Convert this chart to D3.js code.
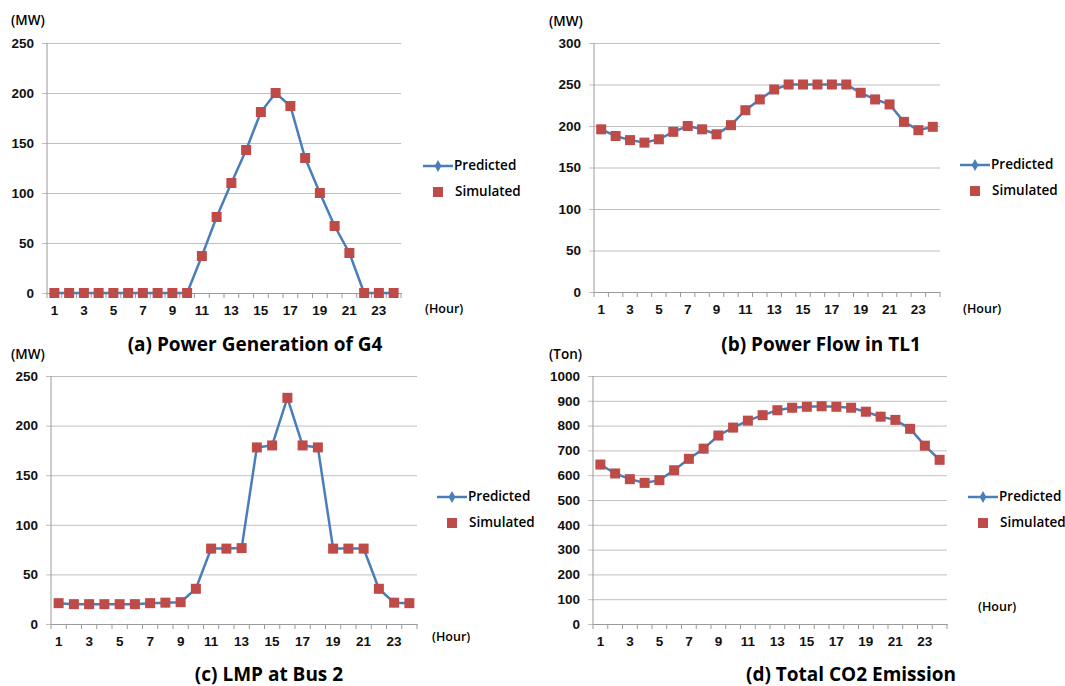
<!DOCTYPE html>
<html>
<head>
<meta charset="utf-8">
<script src="https://cdn.jsdelivr.net/npm/d3@7"></script>
<style>
  body { margin: 0; background: #fff; }
  svg { font-family: "Open Sans", "Noto Sans", sans-serif; }
  .tick text { font-size: 13px; font-weight: 600; fill: #111; }
</style>
</head>
<body>
<div class="board"></div>
<script>
var W = 1065, H = 686

// hours 1..24
var hours = d3.range(1, 25)
var xTickLabels = [1, 3, 5, 7, 9, 11, 13, 15, 17, 19, 21, 23]

// (a) power generation of G4 (MW)
var genPredicted = [0, 0, 0, 0, 0, 0, 0, 0, 0, 0, 37, 76, 110, 143, 181, 200, 187, 135, 100, 67, 40, 0, 0, 0]
var genSimulated = [0, 0, 0, 0, 0, 0, 0, 0, 0, 0, 37, 76, 110, 143, 181, 200, 187, 135, 100, 67, 40, 0, 0, 0]

// (b) power flow in TL1 (MW)
var flowPredicted = [196, 188, 183, 180, 184, 193, 200, 196, 190, 201, 219, 232, 244, 250, 250, 250, 250, 250, 240, 232, 226, 205, 195, 199]
var flowSimulated = [196, 188, 183, 180, 184, 193, 200, 196, 190, 201, 219, 232, 244, 250, 250, 250, 250, 250, 240, 232, 226, 205, 195, 199]

// (c) LMP at bus 2
var lmpPredicted = [21, 20, 20, 20, 20, 20, 21, 21.5, 22, 35.5, 76, 76, 76.5, 178, 180, 228, 180, 178, 76, 76, 76, 35.5, 21.5, 21]
var lmpSimulated = [21, 20, 20, 20, 20, 20, 21, 21.5, 22, 35.5, 76, 76, 76.5, 178, 180, 228, 180, 178, 76, 76, 76, 35.5, 21.5, 21]

// (d) total CO2 emission (Ton)
var co2Predicted = [643, 607, 584, 569, 580, 620, 666, 707, 760, 792, 820, 842, 862, 872, 876, 878, 876, 872, 856, 836, 823, 787, 719, 662]
var co2Simulated = [643, 607, 584, 569, 580, 620, 666, 707, 760, 792, 820, 842, 862, 872, 876, 878, 876, 872, 856, 836, 823, 787, 719, 662]

var seriesNames = ["Predicted", "Simulated"]

var LINE = "#4a7ebb", MARK = "#be4b48", GRID = "#bfbfbf", AXIS = "#9a9a9a"

var svg = d3.select(".board")
    .append("svg")
    .attr("width", W)
    .attr("height", H)

var panels = [
    { pred: genPredicted, sim: genSimulated, yMax: 250, yStep: 50, unit: "(MW)",
      title: "(a) Power Generation of G4",
      box: [47, 43, 401, 293], unitAt: [11, 21], hourAt: [425, 310], titleAt: [255, 346],
      legend: [423, 166] },
    { pred: flowPredicted, sim: flowSimulated, yMax: 300, yStep: 50, unit: "(MW)",
      title: "(b) Power Flow in TL1",
      box: [594, 43, 940, 292], unitAt: [549, 22], hourAt: [963, 310], titleAt: [821, 346],
      legend: [960, 165] },
    { pred: lmpPredicted, sim: lmpSimulated, yMax: 250, yStep: 50, unit: "(MW)",
      title: "(c) LMP at Bus 2",
      box: [51, 376, 417, 624], unitAt: [11, 355], hourAt: [432, 638], titleAt: [269, 676],
      legend: [437, 497] },
    { pred: co2Predicted, sim: co2Simulated, yMax: 1000, yStep: 100, unit: "(Ton)",
      title: "(d) Total CO2 Emission",
      box: [593, 376, 947, 624], unitAt: [549, 355], hourAt: [978, 608], titleAt: [851, 676],
      legend: [968, 497] }
]

function drawPanel(p) {
    var left = p.box[0], top = p.box[1], right = p.box[2], bottom = p.box[3]

    var x = d3.scaleBand()
        .domain(hours)
        .range([left, right])

    var y = d3.scaleLinear()
        .domain([0, p.yMax])
        .range([bottom, top])

    var g = svg.append("g")

    // gridlines + y labels
    var yAxis = g.append("g")
        .attr("transform", `translate(${left}, 0)`)
        .call(d3.axisLeft(y)
            .tickValues(d3.range(0, p.yMax + 1, p.yStep))
            .tickFormat(d3.format("d"))
            .tickSizeInner(-(right - left))
            .tickSizeOuter(0)
            .tickPadding(13))
    yAxis.select(".domain").remove()
    yAxis.selectAll(".tick line")
        .attr("x1", -5)
        .attr("stroke", GRID)
    yAxis.selectAll(".tick text").style("font-size", "13.5px")

    // vertical axis line
    g.append("line")
        .attr("x1", left).attr("x2", left)
        .attr("y1", top).attr("y2", bottom)
        .attr("stroke", AXIS)

    // x axis: labels on odd hours, tick marks between categories
    var xAxis = g.append("g")
        .attr("transform", `translate(0, ${bottom})`)
        .call(d3.axisBottom(x)
            .tickValues(xTickLabels)
            .tickSize(0)
            .tickPadding(12))
    xAxis.select(".domain").attr("stroke", AXIS)
    xAxis.selectAll(".tick text").style("font-size", "13.5px")

    g.selectAll(".xtick")
        .data(d3.range(hours.length + 1))
        .enter()
        .append("line")
        .attr("x1", i => left + i * x.step())
        .attr("x2", i => left + i * x.step())
        .attr("y1", bottom)
        .attr("y2", bottom + 5)
        .attr("stroke", AXIS)

    var cx = (d, i) => x(hours[i]) + x.bandwidth() / 2

    // predicted line
    g.append("path")
        .datum(p.pred)
        .attr("fill", "none")
        .attr("stroke", LINE)
        .attr("stroke-width", 2.5)
        .attr("d", d3.line()
            .x(cx)
            .y(d => y(d)))

    g.selectAll(".diamond")
        .data(p.pred)
        .enter()
        .append("path")
        .attr("d", d3.symbol().type(d3.symbolDiamond).size(30))
        .attr("fill", LINE)
        .attr("transform", (d, i) => `translate(${cx(d, i)}, ${y(d)})`)

    // simulated squares
    var S = 10
    g.selectAll(".sq")
        .data(p.sim)
        .enter()
        .append("rect")
        .attr("x", (d, i) => cx(d, i) - S / 2)
        .attr("y", d => y(d) - S / 2)
        .attr("width", S)
        .attr("height", S)
        .attr("fill", MARK)

    // unit + hour labels
    g.append("text")
        .attr("x", p.unitAt[0])
        .attr("y", p.unitAt[1])
        .attr("dominant-baseline", "middle")
        .style("font-size", "13.5px")
        .style("font-weight", 600)
        .text(p.unit)

    g.append("text")
        .attr("x", p.hourAt[0])
        .attr("y", p.hourAt[1])
        .attr("dominant-baseline", "middle")
        .style("font-size", "12.5px")
        .style("font-weight", 600)
        .text("(Hour)")

    g.append("text")
        .attr("x", p.titleAt[0])
        .attr("y", p.titleAt[1])
        .attr("text-anchor", "middle")
        .attr("dominant-baseline", "middle")
        .style("font-size", "19px")
        .style("font-weight", 700)
        .text(p.title)

    // legend
    var lx = p.legend[0], ly = p.legend[1]
    var lg = g.append("g").attr("transform", `translate(${lx}, ${ly})`)
    lg.append("line")
        .attr("x1", 0).attr("x2", 30)
        .attr("y1", 0).attr("y2", 0)
        .attr("stroke", LINE)
        .attr("stroke-width", 2.5)
    lg.append("path")
        .attr("d", d3.symbol().type(d3.symbolDiamond).size(40))
        .attr("fill", LINE)
        .attr("transform", "translate(15, 0)")
    lg.append("rect")
        .attr("x", 15 - S / 2)
        .attr("y", 26 - S / 2)
        .attr("width", S)
        .attr("height", S)
        .attr("fill", MARK)
    lg.selectAll(".ltext")
        .data(seriesNames)
        .enter()
        .append("text")
        .attr("x", (d, i) => i == 0 ? 31 : 32)
        .attr("y", (d, i) => i * 26)
        .attr("dominant-baseline", "middle")
        .style("font-size", "13.5px")
        .style("font-weight", 600)
        .text(d => d)
}

panels.forEach(drawPanel)
</script>
</body>
</html>
